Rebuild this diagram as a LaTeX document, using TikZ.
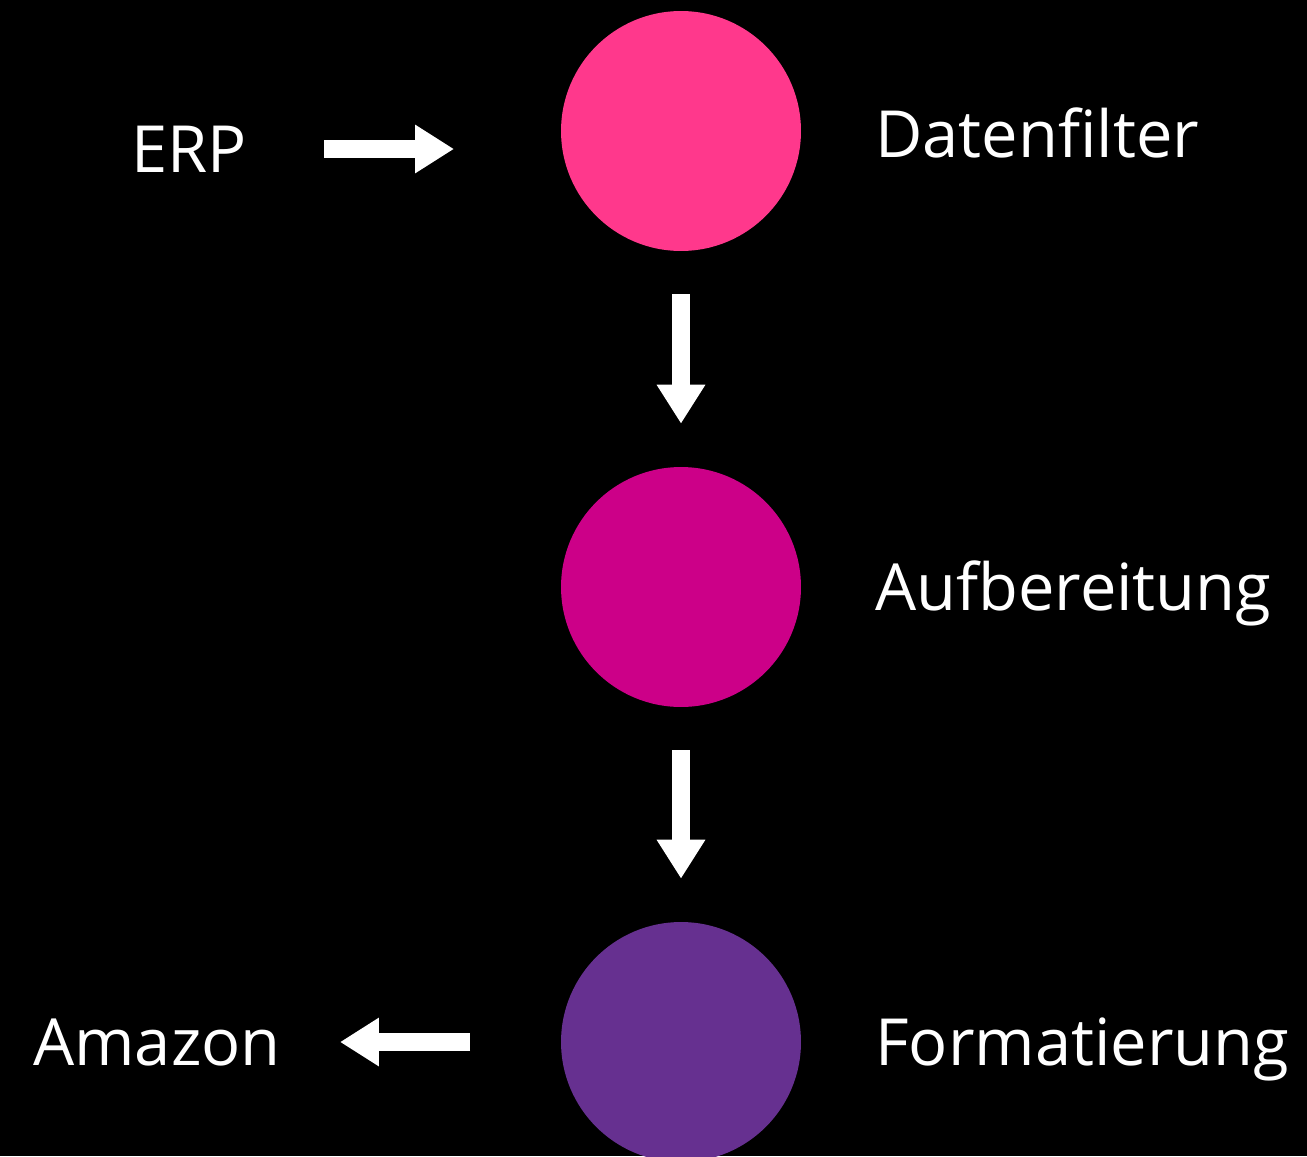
\documentclass[tikz,border=0pt]{standalone}
\usepackage{fontspec}
\setmainfont{Open Sans}
\usetikzlibrary{arrows.meta,positioning}
\definecolor{stepone}{RGB}{255,56,140}
\definecolor{steptwo}{RGB}{204,0,136}
\definecolor{stepthree}{RGB}{102,48,144}
\tikzset{
  stage/.style={circle, minimum size=4.8cm, inner sep=0pt},
  lbl/.style={text=white, font=\fontsize{37}{43}\selectfont, inner sep=0pt},
  flow/.style={white, line width=0.36cm, -{Triangle[length=0.78cm, width=0.92cm]}}
}
\begin{document}
\begin{tikzpicture}[x=0.02cm, y=-0.02cm]
  \useasboundingbox (0,0) rectangle (1307,1156);
  \clip (0,0) rectangle (1307,1156);
  \fill[black] (0,0) rectangle (1307,1156);
  % the three stages
  \node[stage, fill=stepone] (filter) at (681,131) {};
  \node[stage, fill=steptwo] (prep) at (681,587) {};
  \node[stage, fill=stepthree] (format) at (681,1042) {};
  \node[lbl, anchor=base west] (filtertxt) at (875,157) {Datenfilter};
  \node[lbl, anchor=base west] (preptxt) at (875,610) {Aufbereitung};
  \node[lbl, anchor=base west] (formattxt) at (875,1065) {Formatierung};
  % source and target
  \node[lbl, anchor=base west] (erp) at (131,172) {ERP};
  \node[lbl, anchor=base west] (amazon) at (33,1065) {Amazon};
  \coordinate (erpin) at (454,149);
  \coordinate (erpout) at (324,149);
  \coordinate (amzin) at (340,1042);
  \coordinate (amzout) at (470,1042);
  \draw[flow] (erpout) -- (erpin);
  \draw[flow, shorten <=0.86cm, shorten >=0.86cm] (filter) -- (prep);
  \draw[flow, shorten <=0.86cm, shorten >=0.86cm] (prep) -- (format);
  \draw[flow] (amzout) -- (amzin);
\end{tikzpicture}
\end{document}
